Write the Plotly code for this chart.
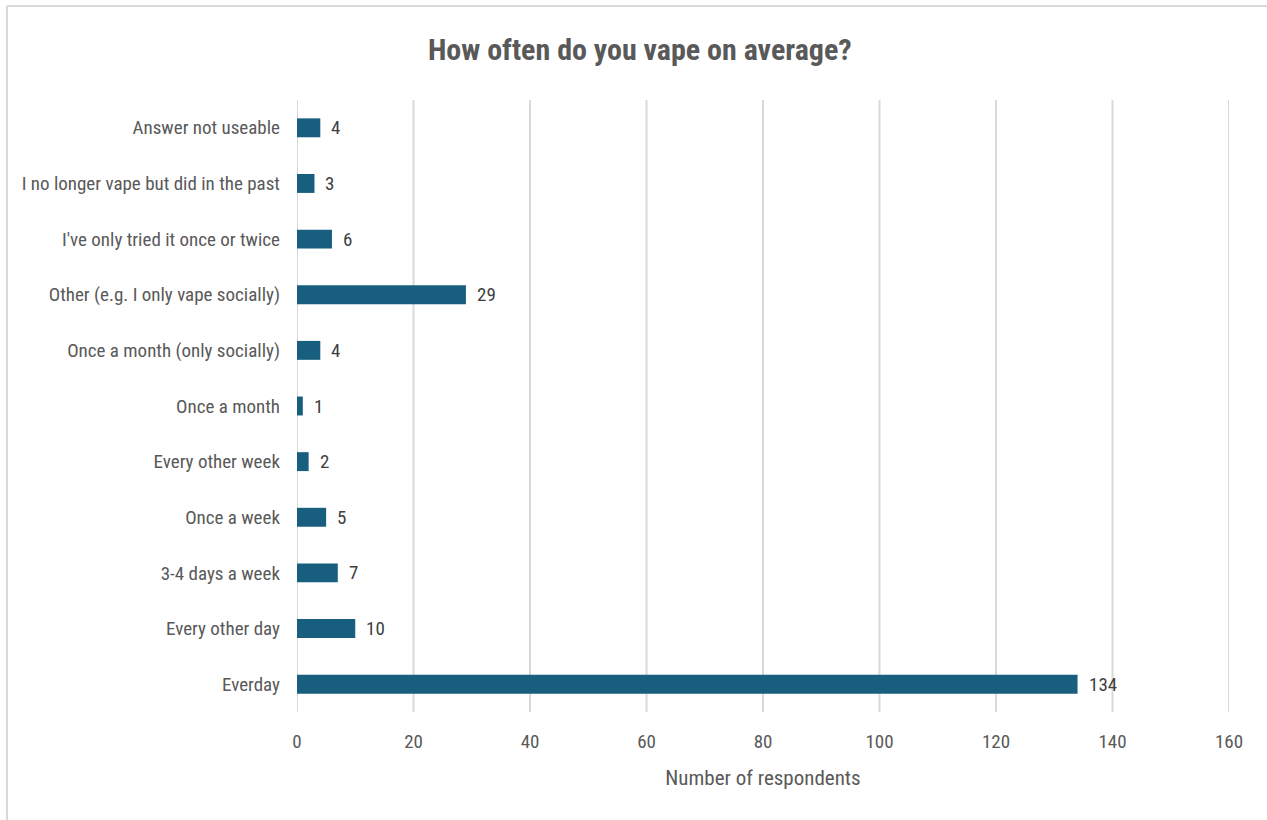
import plotly.graph_objects as go

categories = [
    "Everday",
    "Every other day",
    "3-4 days a week",
    "Once a week",
    "Every other week",
    "Once a month",
    "Once a month (only socially)",
    "Other (e.g. I only vape socially)",
    "I've only tried it once or twice",
    "I no longer vape but did in the past",
    "Answer not useable",
]
respondents = [134, 10, 7, 5, 2, 1, 4, 29, 6, 3, 4]
x_ticks = [0, 20, 40, 60, 80, 100, 120, 140, 160]

FONT = "Liberation Sans Narrow, Roboto Condensed, Roboto, sans-serif"
TEXT = "#595959"
BAR = "#175E7F"
GRID = "#D9D9D9"

fig = go.Figure(
    go.Bar(
        y=categories,
        x=respondents,
        orientation="h",
        marker=dict(color=BAR, line=dict(width=0)),
    )
)

# value labels just to the right of each bar
for cat, val in zip(categories, respondents):
    fig.add_annotation(
        x=val, y=cat, xref="x", yref="y",
        text=str(val), showarrow=False,
        xanchor="left", yanchor="middle", xshift=9,
        font=dict(family=FONT, size=19, color="#404040"),
    )

# vertical gridlines at every tick, including both ends of the axis
for t in x_ticks:
    fig.add_shape(
        type="line", xref="x", yref="y domain",
        x0=t, x1=t, y0=0, y1=1, layer="below",
        line=dict(color=GRID, width=2),
    )

fig.update_layout(
    width=1267,
    height=820,
    margin=dict(l=297, r=38, t=100, b=108),
    paper_bgcolor="white",
    plot_bgcolor="white",
    showlegend=False,
    bargap=0.66,
    font=dict(family=FONT, color=TEXT, size=19),
    title=dict(
        text="<b>How often do you vape on average?</b>",
        x=0.505,
        xanchor="center",
        y=0.94,
        yanchor="middle",
        font=dict(family=FONT, size=30, color=TEXT),
    ),
    xaxis=dict(
        range=[0, 160],
        tickvals=x_ticks,
        ticktext=[str(t) for t in x_ticks],
        showgrid=False,
        zeroline=False,
        showline=False,
        ticks="",
        ticklabelstandoff=16,
        tickfont=dict(family=FONT, size=19, color=TEXT),
        title=dict(text="Number of respondents", standoff=18,
                   font=dict(family=FONT, size=21, color=TEXT)),
    ),
    yaxis=dict(
        categoryorder="array",
        categoryarray=categories,
        showgrid=False,
        zeroline=False,
        showline=False,
        ticks="",
        ticklabelstandoff=16,
        tickfont=dict(family=FONT, size=19, color=TEXT),
    ),
)

# outer chart frame (top and left edges)
fig.add_shape(type="line", xref="paper", yref="paper",
              x0=-(297 - 7) / 932, x1=(1267 - 297) / 932,
              y0=(712 - 6) / 612, y1=(712 - 6) / 612,
              line=dict(color=GRID, width=2))
fig.add_shape(type="line", xref="paper", yref="paper",
              x0=-(297 - 7) / 932, x1=-(297 - 7) / 932,
              y0=(712 - 6) / 612, y1=-(820 - 712) / 612,
              line=dict(color=GRID, width=2))

fig.write_html("out.html")
